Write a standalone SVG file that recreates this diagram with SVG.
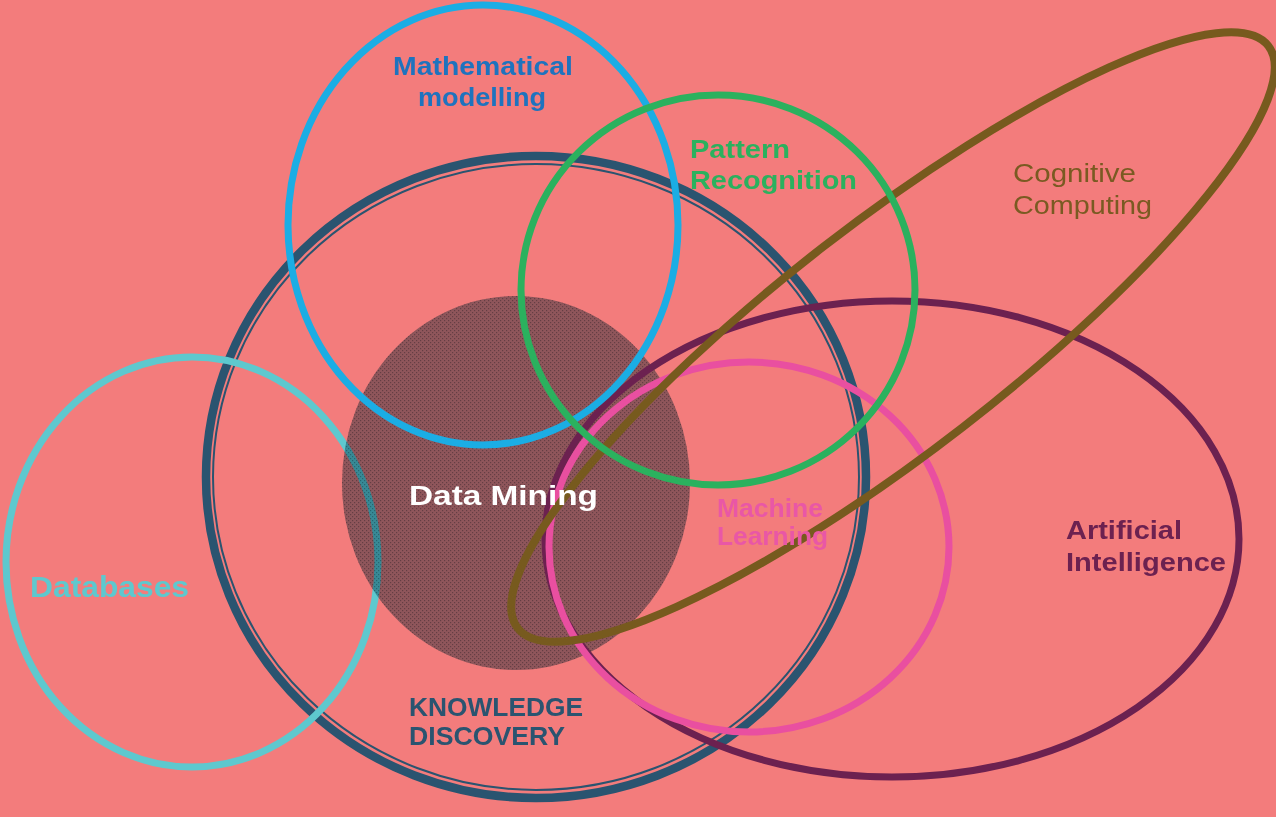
<svg xmlns="http://www.w3.org/2000/svg" width="1276" height="817" viewBox="0 0 1276 817">
  <defs>
    <pattern id="dots" width="4" height="4" patternUnits="userSpaceOnUse">
      <rect width="4" height="4" fill="#96B0BA"/>
      <rect x="0" y="0" width="1.2" height="1.2" fill="#6A808B"/>
      <rect x="2" y="2" width="1.2" height="1.2" fill="#6A808B"/>
    </pattern>
    <style>
      .ring { fill: none; stroke-width: 7; }
      .lbl { font-family: "Liberation Sans", Arial, sans-serif; font-weight: bold; font-size: 26px; }
      .thin { font-weight: normal; }
    </style>
  </defs>

  <rect width="1276" height="817" fill="#F37C7C"/>

  <!-- Knowledge discovery: thick outer ring with a thin inner ring -->
  <g id="knowledge-discovery">
    <ellipse cx="536" cy="477" rx="330" ry="321" fill="none" stroke="#2A5470" stroke-width="8.5"/>
    <ellipse cx="536" cy="477" rx="323" ry="313" fill="none" stroke="#2A5470" stroke-width="2"/>
    <text class="lbl" x="409" y="716" fill="#2A5470" textLength="174" lengthAdjust="spacingAndGlyphs">KNOWLEDGE</text>
    <text class="lbl" x="409" y="745" fill="#2A5470" textLength="156" lengthAdjust="spacingAndGlyphs">DISCOVERY</text>
  </g>

  <g id="databases">
    <ellipse class="ring" cx="192" cy="562" rx="186" ry="205" stroke="#5EC8CE"/>
    <text class="lbl" x="30" y="597" fill="#5EC8CE" textLength="159" lengthAdjust="spacingAndGlyphs" style="font-size:30px">Databases</text>
  </g>

  <!-- dotted disc, multiplied over whatever lies beneath it -->
  <g id="data-mining">
    <ellipse cx="516" cy="483" rx="174" ry="187" fill="url(#dots)" style="mix-blend-mode:multiply"/>
  </g>

  <g id="artificial-intelligence">
    <ellipse class="ring" cx="892" cy="539" rx="347" ry="238" stroke="#6C2150"/>
    <text class="lbl" x="1066" y="539" fill="#6C2150" textLength="116" lengthAdjust="spacingAndGlyphs">Artificial</text>
    <text class="lbl" x="1066" y="571" fill="#6C2150" textLength="160" lengthAdjust="spacingAndGlyphs">Intelligence</text>
  </g>

  <g id="machine-learning">
    <ellipse class="ring" cx="749" cy="547" rx="200" ry="185" stroke="#E94FA0"/>
  </g>

  <g id="cognitive-computing">
    <ellipse cx="893" cy="337" rx="475" ry="114" transform="rotate(-37.8 893 337)" fill="none" stroke="#775A1E" stroke-width="8"/>
    <text class="lbl thin" x="1013" y="182" fill="#7A5A22" textLength="123" lengthAdjust="spacingAndGlyphs">Cognitive</text>
    <text class="lbl thin" x="1013" y="214" fill="#7A5A22" textLength="139" lengthAdjust="spacingAndGlyphs">Computing</text>
  </g>

  <g id="mathematical-modelling">
    <ellipse class="ring" cx="483" cy="225" rx="195" ry="220" stroke="#1BADE4"/>
    <text class="lbl" x="393" y="75" fill="#1E73BE" textLength="180" lengthAdjust="spacingAndGlyphs">Mathematical</text>
    <text class="lbl" x="418" y="106" fill="#1E73BE" textLength="128" lengthAdjust="spacingAndGlyphs">modelling</text>
  </g>

  <g id="pattern-recognition">
    <ellipse class="ring" cx="718" cy="290" rx="197" ry="195" stroke="#2BB15E"/>
    <text class="lbl" x="690" y="158" fill="#2BB15E" textLength="100" lengthAdjust="spacingAndGlyphs">Pattern</text>
    <text class="lbl" x="690" y="189" fill="#2BB15E" textLength="167" lengthAdjust="spacingAndGlyphs">Recognition</text>
  </g>

  <!-- labels that sit above all rings -->
  <g id="top-labels">
    <text class="lbl" x="409" y="505" fill="#FFFFFF" textLength="189" lengthAdjust="spacingAndGlyphs" style="font-size:28px">Data Mining</text>
    <text class="lbl" x="717" y="517" fill="#E957A6" textLength="106" lengthAdjust="spacingAndGlyphs">Machine</text>
    <text class="lbl" x="717" y="545" fill="#E957A6" textLength="111" lengthAdjust="spacingAndGlyphs">Learning</text>
  </g>
</svg>
